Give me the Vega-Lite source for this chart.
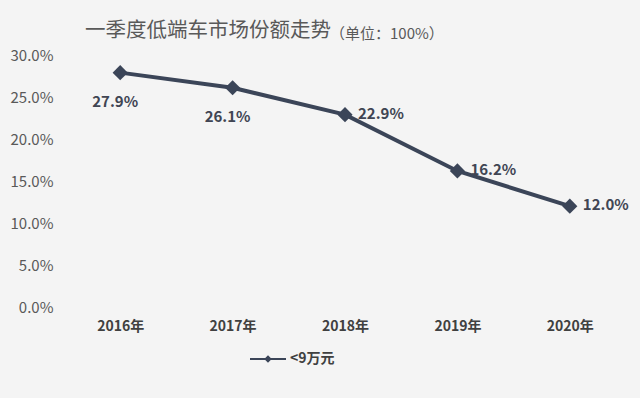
{
  "$schema": "https://vega.github.io/schema/vega-lite/v6.json",
  "autosize": {"type": "none"},
  "width": 562,
  "height": 252,
  "padding": {"left": 64, "top": 55, "right": 14, "bottom": 91},
  "background": "#f4f4f4",
  "config": {
    "view": {"stroke": null},
    "font": "Noto Sans CJK SC"
  },
  "title": {
    "text": "一季度低端车市场份额走势",
    "fontSize": 20.5,
    "fontWeight": "normal",
    "color": "#595959",
    "anchor": "start",
    "frame": "group",
    "dx": 21,
    "offset": -14
  },
  "data": {
    "values": [
      {"year": "2016年", "share": 0.279, "series": "<9万元"},
      {"year": "2017年", "share": 0.261, "series": "<9万元"},
      {"year": "2018年", "share": 0.229, "series": "<9万元"},
      {"year": "2019年", "share": 0.162, "series": "<9万元"},
      {"year": "2020年", "share": 0.120, "series": "<9万元"}
    ]
  },
  "encoding": {
    "x": {
      "field": "year",
      "type": "ordinal",
      "sort": null,
      "scale": {"type": "point", "padding": 0.5},
      "axis": {
        "title": null,
        "labelAngle": 0,
        "domain": false,
        "ticks": false,
        "labelFontSize": 14,
        "labelFontWeight": "bold",
        "labelColor": "#404040",
        "labelPadding": 12
      }
    },
    "y": {
      "field": "share",
      "type": "quantitative",
      "scale": {"domain": [0, 0.3]},
      "axis": {
        "title": null,
        "values": [0, 0.05, 0.1, 0.15, 0.2, 0.25, 0.3],
        "format": ".1%",
        "domain": false,
        "ticks": false,
        "grid": false,
        "labelFontSize": 15,
        "labelColor": "#595959",
        "labelPadding": 11
      }
    }
  },
  "layer": [
    {
      "mark": {"type": "line", "color": "#3b4558", "strokeWidth": 4}
    },
    {
      "mark": {"type": "point", "shape": "diamond", "filled": true, "size": 230, "opacity": 1},
      "encoding": {
        "color": {
          "field": "series",
          "type": "nominal",
          "scale": {"range": ["#3b4558"]},
          "legend": {
            "title": null,
            "orient": "none",
            "legendX": 186,
            "legendY": 286,
            "symbolType": "M-1,-0.06L1,-0.06L1,0.06L-1,0.06Z M0,-0.21L0.21,0L0,0.21L-0.21,0Z",
            "symbolSize": 1296,
            "symbolStrokeWidth": 0,
            "symbolOpacity": 1,
            "labelFontSize": 14,
            "labelFontWeight": "bold",
            "labelColor": "#404040",
            "labelOffset": 4
          }
        }
      }
    },
    {
      "transform": [{"filter": "datum.year == '2016年' || datum.year == '2017年'"}],
      "mark": {"type": "text", "dy": 29, "dx": -5, "align": "center", "baseline": "middle", "fontSize": 15, "fontWeight": "bold", "color": "#404553"},
      "encoding": {"text": {"field": "share", "type": "quantitative", "format": ".1%"}}
    },
    {
      "transform": [{"filter": "datum.year != '2016年' && datum.year != '2017年'"}],
      "mark": {"type": "text", "dx": 13, "dy": -1, "align": "left", "baseline": "middle", "fontSize": 15, "fontWeight": "bold", "color": "#404553"},
      "encoding": {"text": {"field": "share", "type": "quantitative", "format": ".1%"}}
    },
    {
      "data": {"values": [{"label": "（单位：100%）", "year": "2018年", "share": 0.325}]},
      "mark": {"type": "text", "align": "left", "baseline": "middle", "dx": -15, "fontSize": 15, "color": "#595959"},
      "encoding": {"text": {"field": "label", "type": "nominal"}}
    }
  ]
}
